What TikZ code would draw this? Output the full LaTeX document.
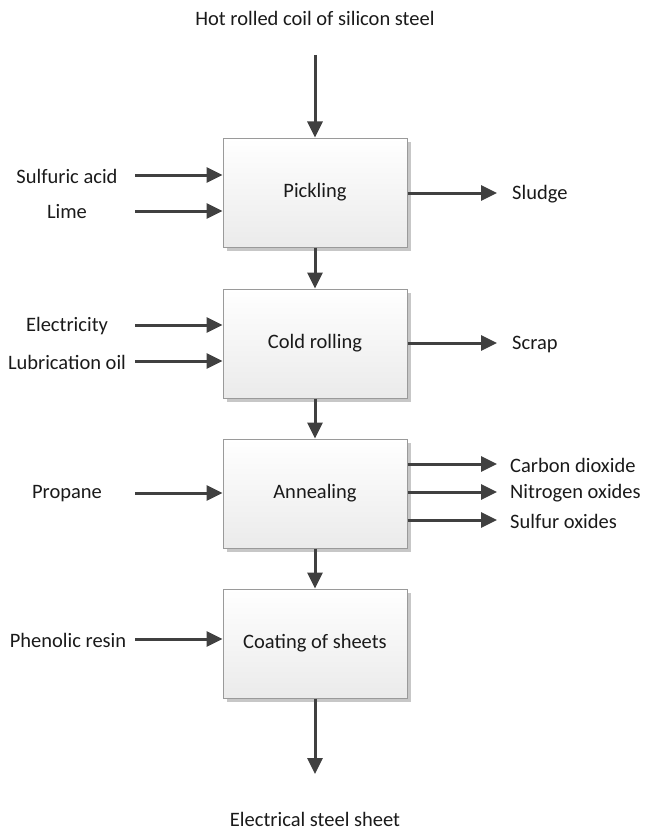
\documentclass[tikz,border=0pt]{standalone}
\usepackage{fontspec}
\setmainfont{Carlito}
\usetikzlibrary{arrows.meta,shadows}
\definecolor{arr}{HTML}{404040}
\definecolor{bord}{HTML}{9A9A9A}
\definecolor{txt}{HTML}{1A1A1A}
\tikzset{
  procbox/.style={draw=bord, line width=1pt, top color=white, bottom color=black!8,
    minimum width=184pt, minimum height=109pt, inner sep=0pt, font=\fontsize{20.5}{24}\selectfont, text=txt,
    drop shadow={shadow xshift=3.5pt, shadow yshift=-3.5pt, fill=black!22, opacity=1}},
  lbl/.style={font=\fontsize{20.5}{24}\selectfont, text=txt, inner sep=0pt},
  flow/.style={draw=arr, line width=3pt, -{Triangle[length=16pt,width=15pt]}}
}
\begin{document}
\begin{tikzpicture}[x=1pt,y=-1pt]
\useasboundingbox (0,0) rectangle (646,832);
% boxes
\node[procbox] (p1) at (315,192.5) {\raisebox{-1.5pt}{Pickling}};
\node[procbox] (p2) at (315,343.5) {\raisebox{-1.5pt}{Cold rolling}};
\node[procbox] (p3) at (315,493.5) {\raisebox{-1.5pt}{Annealing}};
\node[procbox] (p4) at (315,643.5) {\raisebox{-1.5pt}{Coating of sheets}};
% top and bottom
\node[lbl] (top) at (315,18) {Hot rolled coil of silicon steel};
\coordinate (topS) at (315,55);
\node[lbl] (bot) at (315,819) {Electrical steel sheet};
\coordinate (botE) at (315,774);
\draw[flow] (topS) -- (p1.north);
\draw[flow] (p1.south) -- (p2.north);
\draw[flow] (p2.south) -- (p3.north);
\draw[flow] (p3.south) -- (p4.north);
\draw[flow] (p4.south) -- (botE);
% inputs
\node[lbl] (sa) at (67,176) {Sulfuric acid};
\node[lbl] (li) at (67,212) {Lime};
\node[lbl] (el) at (67,326) {Electricity};
\node[lbl] (lo) at (67,362) {Lubrication oil};
\node[lbl] (pr) at (67,494) {Propane};
\node[lbl] (ph) at (68,640) {Phenolic resin};
\foreach \n/\y/\b in {sa/175/p1, li/211/p1, el/325/p2, lo/361/p2, pr/493/p3, ph/639/p4}{
  \coordinate (\n s) at (135,\y);
  \draw[flow] (\n s) -- (\b.west |- \n s);
}
% outputs
\node[lbl, anchor=west] (sl) at (512,194) {Sludge};
\node[lbl, anchor=west] (sc) at (512,344) {Scrap};
\node[lbl, anchor=west] (co) at (510,465) {Carbon dioxide};
\node[lbl, anchor=west] (no) at (510,493) {Nitrogen oxides};
\node[lbl, anchor=west] (so) at (510,521) {Sulfur oxides};
\foreach \n/\y/\b in {sl/193/p1, sc/343/p2, co/464/p3, no/492/p3, so/520/p3}{
  \coordinate (\n e) at (497,\y);
  \draw[flow] (\b.east |- \n e) -- (\n e);
}
\end{tikzpicture}
\end{document}
